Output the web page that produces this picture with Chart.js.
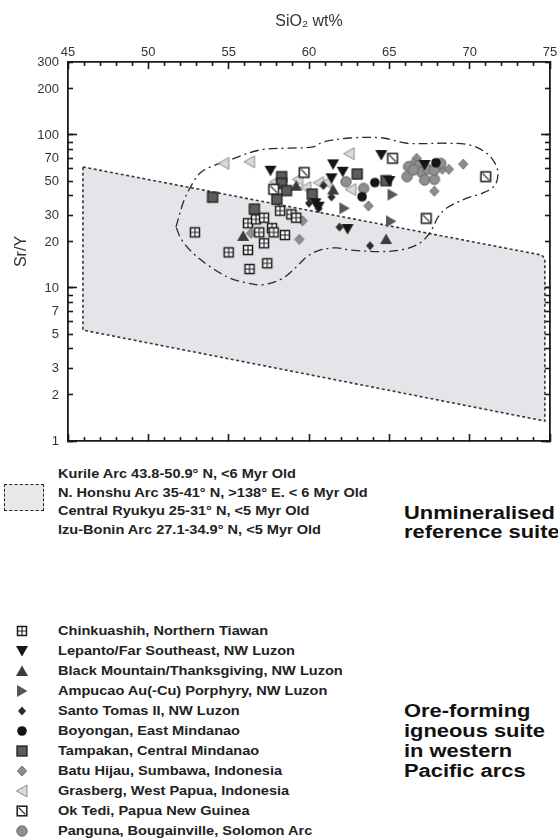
<!DOCTYPE html>
<html><head><meta charset="utf-8">
<script src="https://cdn.jsdelivr.net/npm/chart.js@4.4.0/dist/chart.umd.min.js"></script>
<style>
html,body{margin:0;padding:0;background:#fff;}
body{width:558px;height:840px;position:relative;overflow:hidden;font-family:"Liberation Sans",Arial,sans-serif;color:#222;}
#wrap{position:absolute;left:0;top:0;width:558px;height:462px;}
.lg{position:absolute;font-weight:bold;font-size:13px;white-space:nowrap;color:#222;}
.stretch{transform:scaleX(1.12);transform-origin:0 0;}
.big{position:absolute;font-weight:bold;font-size:17.5px;white-space:nowrap;color:#111;transform:scaleX(1.25);transform-origin:0 0;}
#box{position:absolute;left:4px;top:484px;width:38px;height:25px;border:1.5px dashed #222;background:#e8e8ea;}
.row{position:absolute;left:0;height:20px;width:400px;}
.row canvas{position:absolute;left:14px;top:2px;}
.row span{position:absolute;left:58px;top:1px;line-height:18px;transform:scaleX(1.12);transform-origin:0 0;}
</style></head><body>
<div id="wrap"><canvas id="c" width="558" height="462"></canvas></div>

<div id="box"></div>
<div class="lg stretch" style="left:58px;top:465px;line-height:18.6px;">
Kurile Arc 43.8-50.9° N, &lt;6 Myr Old<br>
N. Honshu Arc 35-41° N, &gt;138° E. &lt; 6 Myr Old<br>
Central Ryukyu 25-31° N, &lt;5 Myr Old<br>
Izu-Bonin Arc 27.1-34.9° N, &lt;5 Myr Old
</div>
<div class="big" style="left:404px;top:504px;line-height:18.5px;">Unmineralised<br>reference suite</div>
<div id="leg2"></div>
<div class="big" style="left:404px;top:701px;line-height:20px;">Ore-forming<br>igneous suite<br>in western<br>Pacific arcs</div>

<script>
// ---------- data ----------
const xTickLabels = [45, 50, 55, 60, 65, 70, 75];
const xMinorTicks = [46,47,48,49,51,52,53,54,56,57,58,59,61,62,63,64,66,67,68,69,71,72,73,74];
const yTickLabels = [1, 2, 3, 5, 7, 10, 20, 30, 50, 70, 100, 200, 300];
const yMinorTicks = [4, 6, 8, 9, 40, 60, 80, 90];
const yLongTicks = [1, 10, 100];

const seriesNames = [
  "Chinkuashih, Northern Tiawan",
  "Lepanto/Far Southeast, NW Luzon",
  "Black Mountain/Thanksgiving, NW Luzon",
  "Ampucao Au(-Cu) Porphyry, NW Luzon",
  "Santo Tomas II, NW Luzon",
  "Boyongan, East Mindanao",
  "Tampakan, Central Mindanao",
  "Batu Hijau, Sumbawa, Indonesia",
  "Grasberg, West Papua, Indonesia",
  "Ok Tedi, Papua New Guinea",
  "Panguna, Bougainville, Solomon Arc"
];

const chinkSiO2 = [52.9,55.0,56.2,56.3,57.4,57.2,56.2,56.7,57.2,56.9,57.7,57.8,58.5,58.2,58.9,59.2];
const chinkSrY  = [23.1,17.1,17.7,13.3,14.5,19.6,26.5,28.1,28.8,23.1,24.6,23.1,22.2,32.0,30.3,28.8];
const lepantoSiO2 = [57.6,61.5,62.1,61.4,64.5,60.4,60.6,62.4,65.0,67.2];
const lepantoSrY  = [58.4,64.3,57.5,52.1,74.0,35.8,34.0,24.3,50.0,63.7];
const blackMtnSiO2 = [55.9,59.2,61.5,64.8];
const blackMtnSrY  = [21.9,46.6,44.0,20.9];
const ampucaoSiO2 = [62.2,65.2,65.1];
const ampucaoSrY  = [33.2,40.8,27.3];
const santoSiO2 = [61.4,60.0,60.6,61.9,63.8,60.9];
const santoSrY  = [39.3,35.8,33.1,25.0,18.9,46.8];
const boyonganSiO2 = [64.1,63.3,67.9];
const boyonganSrY  = [48.9,39.5,65.9];
const tampakanSiO2 = [54.0,56.6,58.3,58.3,58.6,58.0,60.2,63.0,64.8];
const tampakanSrY  = [39.2,32.8,53.4,48.3,43.3,38.0,41.1,55.6,50.3];
const batuSiO2 = [56.4,59.6,59.4,63.7,66.7,69.6,67.8,68.3,68.7,66.5];
const batuSrY  = [22.8,27.5,20.8,34.4,70.4,64.5,42.9,59.7,59.7,65.3];
const grasbergSiO2 = [54.7,56.3,62.5,57.9,59.3,59.8,60.6,61.1,62.6];
const grasbergSrY  = [65.3,66.9,75.5,49.5,51.3,45.3,48.8,48.9,44.0];
const okTediSiO2 = [59.7,57.8,65.2,71.0,67.3];
const okTediSrY  = [56.9,44.2,70.4,53.4,28.5];
const pangunaSiO2 = [62.3,63.4,66.2,66.1,66.9,67.0,67.4,67.2,67.8,67.8,68.2,66.5];
const pangunaSrY  = [49.5,44.8,62.1,53.4,63.7,57.3,59.7,50.8,51.3,59.1,65.3,59.1];

// unmineralised reference field (polygon)
const refFieldSiO2 = [45.93, 74.50, 74.68, 74.68, 45.93, 45.93];
const refFieldSrY  = [61.8, 16.4, 15.5, 1.35, 5.31, 61.8];

// ore-forming suite envelope (dash-dot)
const envSiO2 = [51.72,52.16,52.59,53.32,55.08,56.95,58.82,60.25,60.87,62.55,64.61,66.08,68.57,70.02,71.06,71.58,71.76,71.58,70.83,69.83,68.57,68.03,67.72,67.33,66.70,65.66,64.42,62.55,61.72,60.68,59.86,59.23,58.38,57.14,56.12,55.08,53.84,52.78,52.08,51.72];
const envSrY  = [25.0,35.9,45.0,57.5,68.7,79.8,82.2,83.5,90.0,95.6,95.6,88.3,88.3,86.0,75.9,65.3,56.4,47.1,41.8,38.7,33.3,29.1,25.0,21.6,19.1,17.7,17.3,17.7,18.3,17.7,16.0,13.8,11.6,10.5,10.8,11.6,13.8,16.9,20.6,25.0];

// ---------- markers ----------
function drawMarker(ctx, type, cx, cy) {
  ctx.save();
  ctx.setLineDash([]);
  ctx.lineJoin = 'miter';
  const poly = (pts, fill, stroke, lw) => {
    ctx.beginPath(); ctx.moveTo(cx+pts[0][0], cy+pts[0][1]);
    for (let i=1;i<pts.length;i++) ctx.lineTo(cx+pts[i][0], cy+pts[i][1]);
    ctx.closePath(); ctx.fillStyle = fill; ctx.fill();
    if (stroke) { ctx.strokeStyle = stroke; ctx.lineWidth = lw; ctx.stroke(); }
  };
  switch (type) {
    case 'chink': {
      const h = 4.5;
      ctx.fillStyle = '#fff'; ctx.fillRect(cx-h, cy-h, 2*h, 2*h);
      ctx.strokeStyle = '#1a1a1a'; ctx.lineWidth = 1.5; ctx.strokeRect(cx-h, cy-h, 2*h, 2*h);
      ctx.lineWidth = 1.1; ctx.beginPath();
      ctx.moveTo(cx, cy-h); ctx.lineTo(cx, cy+h); ctx.moveTo(cx-h, cy); ctx.lineTo(cx+h, cy); ctx.stroke();
      break; }
    case 'oktedi': {
      const h = 4.8;
      ctx.fillStyle = '#fff'; ctx.fillRect(cx-h, cy-h, 2*h, 2*h);
      ctx.strokeStyle = '#1a1a1a'; ctx.lineWidth = 1.5; ctx.strokeRect(cx-h, cy-h, 2*h, 2*h);
      ctx.lineWidth = 1.2; ctx.beginPath();
      ctx.moveTo(cx-h+1.5, cy-h+1.5); ctx.lineTo(cx+h-1.5, cy+h-1.5); ctx.stroke();
      break; }
    case 'tampakan': {
      const h = 5;
      ctx.fillStyle = '#5c5c5c'; ctx.fillRect(cx-h, cy-h, 2*h, 2*h);
      ctx.strokeStyle = '#1e1e1e'; ctx.lineWidth = 1.3; ctx.strokeRect(cx-h, cy-h, 2*h, 2*h);
      break; }
    case 'triDown': poly([[-6,-5],[6,-5],[0,5.5]], '#151515'); break;
    case 'triUp': poly([[-6,5],[6,5],[0,-5.5]], '#3c3c3c'); break;
    case 'triRight': poly([[-5,-6],[-5,6],[5.5,0]], '#575757'); break;
    case 'triLeft': poly([[5,-6],[5,6],[-5.5,0]], '#d9d9d9', '#8a8a8a', 1); break;
    case 'diamondSmall': poly([[0,-4.5],[4,0],[0,4.5],[-4,0]], '#2c2c2c'); break;
    case 'diamondGray': poly([[0,-5],[4.6,0],[0,5],[-4.6,0]], '#8e8e8e', '#6e6e6e', 1); break;
    case 'circleBlack':
      ctx.beginPath(); ctx.arc(cx, cy, 4.8, 0, Math.PI*2); ctx.fillStyle = '#141414'; ctx.fill(); break;
    case 'circleGray':
      ctx.beginPath(); ctx.arc(cx, cy, 5.2, 0, Math.PI*2); ctx.fillStyle = '#8f8f8f'; ctx.fill();
      ctx.strokeStyle = '#6a6a6a'; ctx.lineWidth = 1; ctx.stroke(); break;
  }
  ctx.restore();
}
function markerCanvas(type) {
  const cv = document.createElement('canvas');
  cv.width = 16; cv.height = 16;
  drawMarker(cv.getContext('2d'), type, 8, 8);
  return cv;
}

const markerTypes = ['chink','triDown','triUp','triRight','diamondSmall','circleBlack','tampakan','diamondGray','triLeft','oktedi','circleGray'];
const seriesX = [chinkSiO2, lepantoSiO2, blackMtnSiO2, ampucaoSiO2, santoSiO2, boyonganSiO2, tampakanSiO2, batuSiO2, grasbergSiO2, okTediSiO2, pangunaSiO2];
const seriesY = [chinkSrY, lepantoSrY, blackMtnSrY, ampucaoSrY, santoSrY, boyonganSrY, tampakanSrY, batuSrY, grasbergSrY, okTediSrY, pangunaSrY];
const drawOrder = [5, 3, 4, 4, 6, 2, 3, 8, 9, 1, 7];
const pts = (xs, ys) => xs.map((v, i) => ({x: v, y: ys[i]}));

const datasets = [];
seriesNames.forEach((name, i) => {
  datasets.push({ label: name, data: pts(seriesX[i], seriesY[i]), pointStyle: markerCanvas(markerTypes[i]), pointRadius: 5, showLine: false, order: drawOrder[i] });
});
datasets.push({ label: 'envelope', data: pts(envSiO2, envSrY), showLine: true, pointRadius: 0, borderColor: '#2a2a2a', borderWidth: 1.3, borderDash: [9, 4, 2, 4], tension: 0.35, fill: false, order: 50 });
datasets.push({ label: 'reference field', data: pts(refFieldSiO2, refFieldSrY), showLine: true, pointRadius: 0, borderColor: '#3a3a3a', borderWidth: 1.6, borderDash: [3, 2.5], backgroundColor: '#e4e5e9', fill: 'shape', tension: 0, order: 100 });

// ---------- axes: inward ticks via extra Chart.js scales ----------
const FONT = '"Liberation Sans", Arial';
const AX = '#1a1a1a';
function tickScale(position, isX, vals, len, withBorder) {
  return {
    type: isX ? 'linear' : 'logarithmic',
    position,
    min: isX ? 45 : 1,
    max: isX ? 75 : 300,
    weight: -1,
    afterBuildTicks: s => { s.ticks = vals.map(v => ({value: v})); },
    afterFit: s => {
      if (isX) s.height = 0; else s.width = 0;
      s.paddingLeft = 0; s.paddingRight = 0; s.paddingTop = 0; s.paddingBottom = 0;
    },
    ticks: { display: false, autoSkip: false },
    grid: { display: true, drawOnChartArea: false, drawTicks: true, tickLength: -len, tickWidth: 1.6, tickColor: AX },
    border: { display: withBorder, width: 1.8, color: AX }
  };
}

new Chart(document.getElementById('c'), {
  type: 'scatter',
  data: { datasets },
  options: {
    responsive: false, animation: false, devicePixelRatio: 1,
    layout: { padding: { left: 0, top: 0, right: 8, bottom: 21 } },
    plugins: { legend: { display: false }, tooltip: { enabled: false } },
    scales: {
      x: {
        type: 'linear', position: 'top', min: 45, max: 75,
        afterBuildTicks: s => { s.ticks = xTickLabels.map(v => ({value: v})); },
        afterFit: s => { s.height = 62; s.paddingLeft = 0; s.paddingRight = 0; },
        ticks: { font: { family: FONT, size: 13 }, color: '#333', padding: 9, maxRotation: 0, autoSkip: false, callback: v => String(v) },
        title: { display: true, text: 'SiO₂ wt%', font: { family: FONT, size: 16 }, color: '#333', padding: { top: 12, bottom: 0 } },
        grid: { display: true, drawOnChartArea: false, drawTicks: true, tickLength: -7, tickWidth: 1.6, tickColor: AX },
        border: { display: true, width: 1.8, color: AX }
      },
      xMinorTop: tickScale('top', true, xMinorTicks, 4, false),
      xBottom: tickScale('bottom', true, xTickLabels, 7, true),
      xMinorBottom: tickScale('bottom', true, xMinorTicks, 4, false),
      y: {
        type: 'logarithmic', position: 'left', min: 1, max: 300,
        afterBuildTicks: s => { s.ticks = yTickLabels.map(v => ({value: v})); },
        afterFit: s => { s.width = 68; s.paddingTop = 0; s.paddingBottom = 0; },
        ticks: { font: { family: FONT, size: 13 }, color: '#333', padding: 14, autoSkip: false, callback: v => String(v) },
        title: { display: true, text: 'Sr/Y', font: { family: FONT, size: 16 }, color: '#333', padding: { top: 12, bottom: 0 } },
        grid: { display: true, drawOnChartArea: false, drawTicks: true, tickLength: -5, tickWidth: 1.6, tickColor: AX },
        border: { display: true, width: 1.8, color: AX }
      },
      yLongLeft: tickScale('left', false, yLongTicks, 9, false),
      yMinorLeft: tickScale('left', false, yMinorTicks, 5, false),
      yRight: tickScale('right', false, yTickLabels.concat(yMinorTicks), 5, true),
      yLongRight: tickScale('right', false, yLongTicks, 9, false)
    }
  }
});

// ---------- ore-forming legend ----------
const leg2 = document.getElementById('leg2');
const legTop0 = 621;
const legStep = 20.0;
seriesNames.forEach((name, i) => {
  const row = document.createElement('div');
  row.className = 'row lg';
  row.style.top = (legTop0 + i * legStep) + 'px';
  row.appendChild(markerCanvas(markerTypes[i]));
  const sp = document.createElement('span');
  sp.textContent = name;
  row.appendChild(sp);
  leg2.appendChild(row);
});
</script>
</body></html>
